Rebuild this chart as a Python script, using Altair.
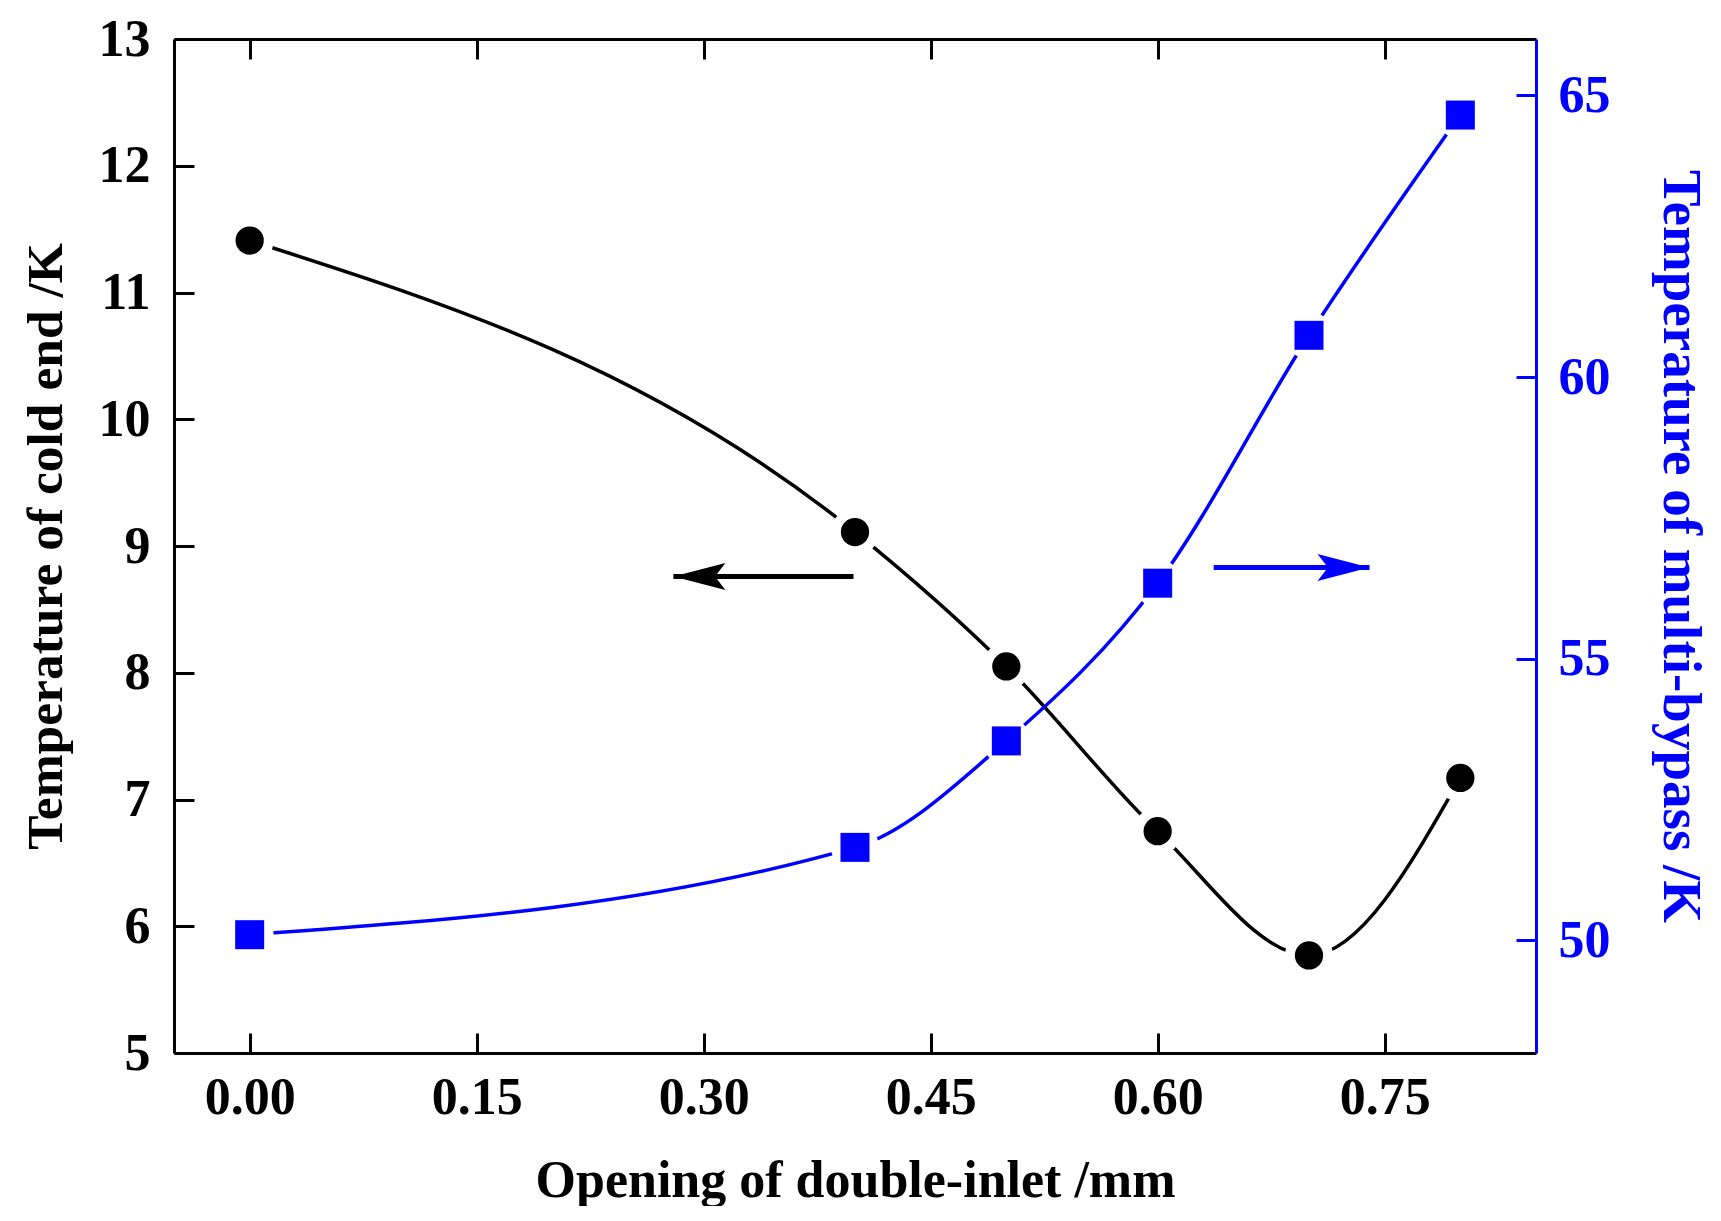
import altair as alt
import pandas as pd

# ---- data ----
x_open = [0.0, 0.4, 0.5, 0.6, 0.7, 0.8]
t_cold = [11.41, 9.11, 8.05, 6.75, 5.77, 7.17]
t_bypass = [50.1, 51.65, 53.54, 56.34, 60.74, 64.65]

x_ticks = [0.0, 0.15, 0.30, 0.45, 0.60, 0.75]
left_ticks = [5, 6, 7, 8, 9, 10, 11, 12, 13]
right_ticks = [50, 55, 60, 65]

# annotation arrows (left-axis units)
arrow_start = [0.399, 0.637]
arrow_tip = [0.280, 0.740]
arrow_y = [8.76, 8.83]
arrow_color = ["#000000", "#0000ff"]
arrow_head = ["M0,0 L2,-0.52 L1.6,0 L2,0.52 Z", "M0,0 L-2,-0.52 L-1.6,0 L-2,0.52 Z"]

FONT = "Liberation Serif"
BLUE = "#0000ff"
XDOM = [-0.05, 0.85]
YL = [5, 13]
YR = [48, 66]

df = pd.DataFrame({"x": x_open, "cold": t_cold, "bypass": t_bypass})
arr = pd.DataFrame({"x0": arrow_start, "x1": arrow_tip, "y": arrow_y,
                    "c": arrow_color, "s": arrow_head})

xs = alt.Scale(domain=XDOM, nice=False, zero=False)
yls = alt.Scale(domain=YL, nice=False, zero=False)
yrs = alt.Scale(domain=YR, nice=False, zero=False)

TICK_IN = alt.ExprRef("-20")

x_axis = alt.Axis(values=x_ticks, format=".2f", title="Opening of double-inlet /mm",
                  labelFont=FONT, labelFontSize=52, labelFontWeight="bold", labelColor="black",
                  titleFont=FONT, titleFontSize=52, titleFontWeight="bold", titleColor="black",
                  domainColor="black", domainWidth=3, tickColor="black", tickWidth=3,
                  tickSize=TICK_IN, labelPadding=39, titlePadding=32, grid=False)
x_top_axis = alt.Axis(orient="top", values=x_ticks, labels=False, title=None,
                      domainColor="black", domainWidth=3, tickColor="black", tickWidth=3,
                      tickSize=TICK_IN, grid=False)
yl_axis = alt.Axis(values=left_ticks, format="d", title="Temperature of cold end /K",
                   labelFont=FONT, labelFontSize=52, labelFontWeight="bold", labelColor="black",
                   titleFont=FONT, titleFontSize=51.5, titleFontWeight="bold", titleColor="black",
                   domainColor="black", domainWidth=3, tickColor="black", tickWidth=3,
                   tickSize=TICK_IN, labelPadding=44, titlePadding=26, grid=False)
yr_axis = alt.Axis(orient="right", values=right_ticks, format="d",
                   title="Temperature of multi-bypass /K",
                   labelFont=FONT, labelFontSize=52, labelFontWeight="bold", labelColor=BLUE,
                   titleFont=FONT, titleFontSize=55, titleFontWeight="bold", titleColor=BLUE,
                   domainColor=BLUE, domainWidth=3, tickColor=BLUE, tickWidth=3,
                   tickSize=TICK_IN, labelPadding=42, titlePadding=41, grid=False)

base = alt.Chart(df)

bx = alt.X("x:Q", scale=xs, axis=x_axis)
by = alt.Y("cold:Q", scale=yls, axis=yl_axis)

black_line = base.mark_line(interpolate="monotone", color="black", strokeWidth=3.5).encode(x=bx, y=by)
black_halo = base.mark_point(filled=True, shape="circle", size=2300, color="white",
                             opacity=1, strokeWidth=0).encode(x=bx, y=by)
black_pts = base.mark_point(filled=True, shape="circle", size=800, color="black",
                            opacity=1, strokeWidth=0).encode(x=bx, y=by)

arr_base = alt.Chart(arr)
arrow_shaft = arr_base.mark_rule(strokeWidth=5).encode(
    x=alt.X("x0:Q", scale=xs, axis=x_axis), x2="x1:Q",
    y=alt.Y("y:Q", scale=yls, axis=yl_axis),
    color=alt.Color("c:N", scale=None))
arrow_heads = arr_base.mark_point(filled=True, size=2704, opacity=1, strokeWidth=0).encode(
    x=alt.X("x1:Q", scale=xs, axis=x_axis),
    y=alt.Y("y:Q", scale=yls, axis=yl_axis),
    color=alt.Color("c:N", scale=None),
    shape=alt.Shape("s:N", scale=None))

black = alt.layer(black_line, black_halo, black_pts, arrow_shaft, arrow_heads)

ux = alt.X("x:Q", scale=xs, axis=None)
uy = alt.Y("bypass:Q", scale=yrs, axis=yr_axis)
blue_line = base.mark_line(interpolate="monotone", color=BLUE, strokeWidth=3.5).encode(x=ux, y=uy)
blue_halo = base.mark_point(filled=True, shape="circle", size=2300, color="white",
                            opacity=1, strokeWidth=0).encode(x=ux, y=uy)
blue_pts = base.mark_point(filled=True, shape="square", size=841, color=BLUE,
                           opacity=1, strokeWidth=0).encode(x=ux, y=uy)
blue = alt.layer(blue_line, blue_halo, blue_pts)

top = base.mark_point(opacity=0).encode(
    x=alt.X("x:Q", scale=xs, axis=x_top_axis),
    y=alt.Y("cold:Q", scale=yls, axis=None))

chart = alt.layer(black, blue, top).resolve_scale(
    x="independent", y="independent"
).properties(
    width=1362, height=1014,
    padding={"left": 12, "top": 5, "right": 6, "bottom": 0},
    background="white",
).configure_view(stroke=None)

chart.save("out.html", embed_options={"renderer": "svg", "actions": False})
